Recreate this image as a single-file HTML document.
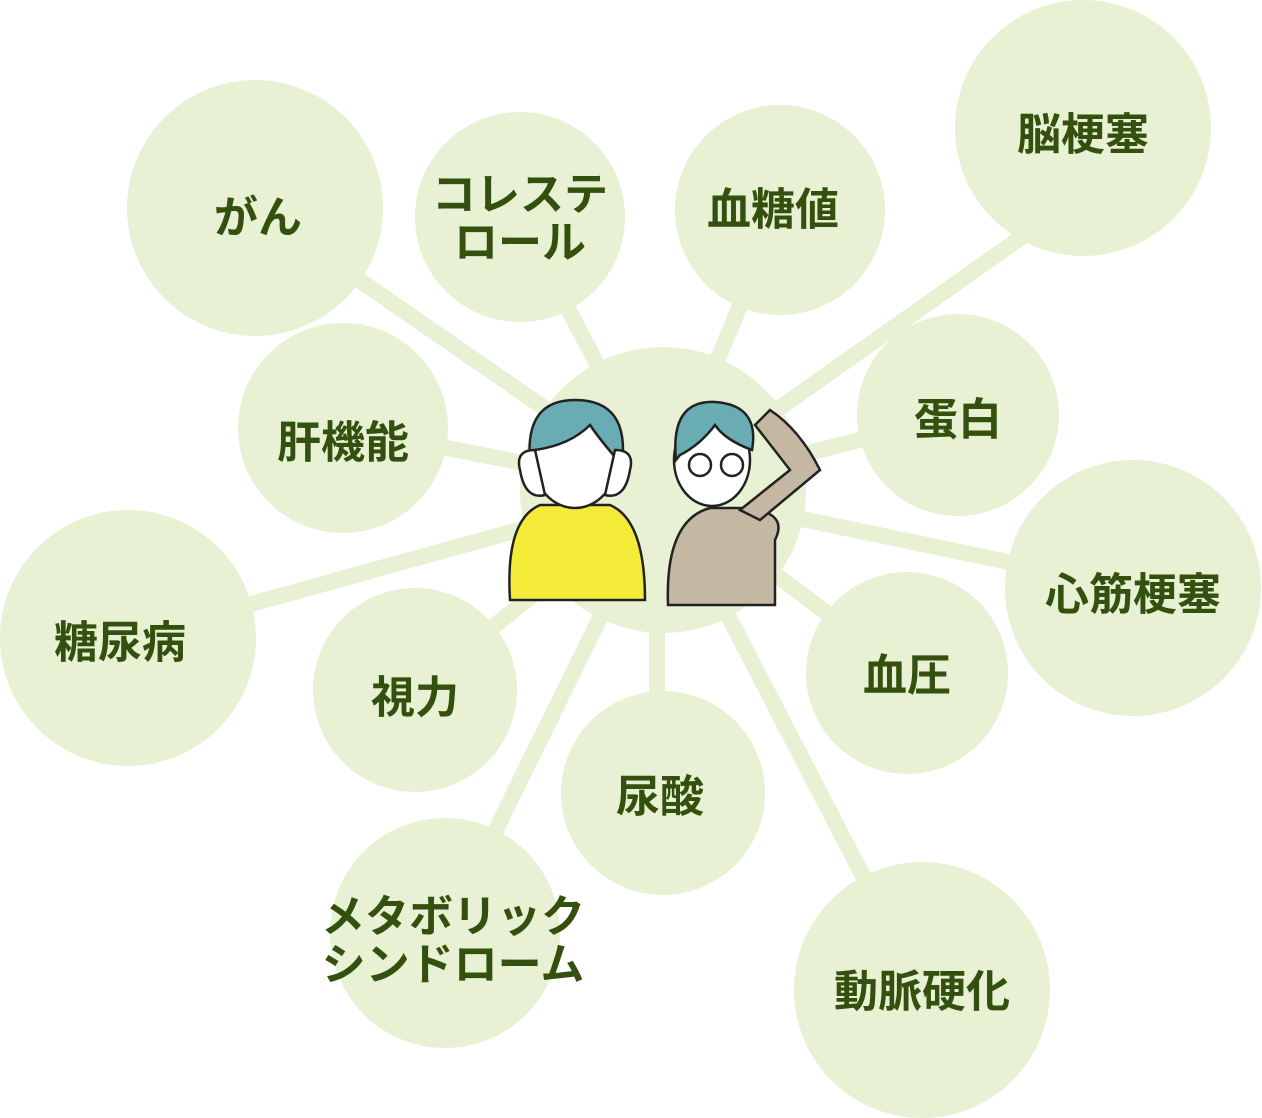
<!DOCTYPE html>
<html><head><meta charset="utf-8"><style>
html,body{margin:0;padding:0;background:#fff;}
svg{display:block}
text{font-family:"Liberation Sans","Noto Sans CJK JP",sans-serif;font-weight:bold;fill:#33500f;font-size:44px;text-anchor:middle;dominant-baseline:central}
</style></head><body>
<svg width="1262" height="1118" viewBox="0 0 1262 1118">
<g stroke="#e8f1d3" stroke-width="16">
<line x1="663" y1="490" x2="255" y2="208"/>
<line x1="663" y1="490" x2="520" y2="217"/>
<line x1="663" y1="490" x2="780" y2="210"/>
<line x1="740" y1="436" x2="1060" y2="210"/>
<line x1="663" y1="490" x2="343" y2="428"/>
<line x1="663" y1="490" x2="958" y2="415"/>
<line x1="663" y1="490" x2="128" y2="638"/>
<line x1="663" y1="490" x2="1133" y2="588"/>
<line x1="663" y1="490" x2="415" y2="690"/>
<line x1="663" y1="490" x2="907" y2="673"/>
<line x1="657" y1="490" x2="657" y2="793"/>
<line x1="663" y1="490" x2="445" y2="933"/>
<line x1="663" y1="490" x2="922" y2="990"/>
</g>
<g fill="#e8f1d3">
<circle cx="663" cy="490" r="143"/>
<circle cx="255" cy="208" r="128"/>
<circle cx="520" cy="217" r="105"/>
<circle cx="780" cy="210" r="105"/>
<circle cx="1083" cy="128" r="128"/>
<circle cx="343" cy="428" r="105"/>
<circle cx="958" cy="415" r="101"/>
<circle cx="128" cy="638" r="128"/>
<circle cx="1133" cy="588" r="128"/>
<circle cx="415" cy="690" r="102"/>
<circle cx="907" cy="673" r="101"/>
<circle cx="663" cy="793" r="102"/>
<circle cx="445" cy="933" r="115"/>
<circle cx="922" cy="990" r="128"/>
</g>
<g stroke="#222" stroke-width="2.5">
<path d="M510 600 Q505 520 540 505 L610 505 Q645 520 645 600 Z" fill="#f5ec3a"/>
<ellipse cx="575" cy="460" rx="42" ry="48" fill="#fff"/>
<path d="M530 460 Q525 400 575 400 Q630 400 622 465 Q600 440 590 425 Q570 445 535 450 Z" fill="#6aacb3"/>
<path d="M520 470 Q515 450 535 450 L545 495 Q525 500 520 470Z" fill="#fff"/>
<path d="M630 470 Q635 450 615 450 L605 495 Q625 500 630 470Z" fill="#fff"/>
<path d="M668 605 Q665 520 710 508 L740 508 Q790 510 775 540 L775 605 Z" fill="#c4b8a3"/>
<path d="M760 520 L820 470 Q800 430 770 410 L755 425 L790 470 L740 510 Z" fill="#c4b8a3"/>
<ellipse cx="712" cy="460" rx="38" ry="46" fill="#fff"/>
<path d="M676 460 Q670 400 715 402 Q760 405 752 450 Q725 440 715 425 Q700 445 680 455Z" fill="#6aacb3"/>
<circle cx="700" cy="465" r="11" fill="none"/>
<circle cx="732" cy="465" r="11" fill="none"/>
</g>
<text x="258" y="218">がん</text>
<text x="520" y="195">コレステ</text>
<text x="520" y="243">ロール</text>
<text x="773" y="210">血糖値</text>
<text x="1083" y="135">脳梗塞</text>
<text x="343" y="443">肝機能</text>
<text x="958" y="420">蛋白</text>
<text x="120" y="643">糖尿病</text>
<text x="1133" y="595">心筋梗塞</text>
<text x="415" y="698">視力</text>
<text x="907" y="676">血圧</text>
<text x="660" y="797">尿酸</text>
<text x="453" y="917">メタボリック</text>
<text x="453" y="965">シンドローム</text>
<text x="922" y="992">動脈硬化</text>
</svg>
</body></html>
